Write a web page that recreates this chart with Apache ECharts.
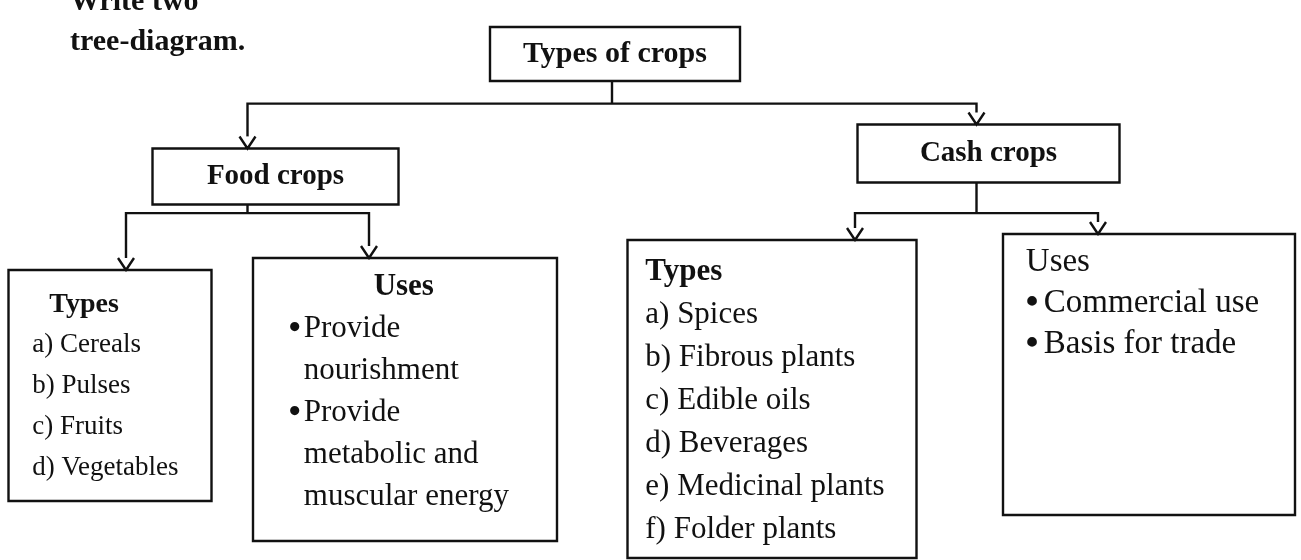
<!DOCTYPE html>
<html>
<head>
<meta charset="utf-8">
<script src="https://cdn.jsdelivr.net/npm/echarts@6/dist/echarts.min.js"></script>
<style>
html, body { margin: 0; background: #fff; }
#tree { width: 1301px; height: 560px; }
</style>
</head>
<body>
<div id="tree"></div>
<script>
// texts of the diagram, as printed
var heading = ['Write two', 'tree-diagram.'];
var rootName = 'Types of crops';
var groupNames = ['Food crops', 'Cash crops'];
var leafHeads = ['Types', 'Uses', 'Types', 'Uses'];
var foodTypes = ['a) Cereals', 'b) Pulses', 'c) Fruits', 'd) Vegetables'];
var foodUses = [['Provide', 'nourishment'], ['Provide', 'metabolic and', 'muscular energy']];
var cashTypes = ['a) Spices', 'b) Fibrous plants', 'c) Edible oils', 'd) Beverages', 'e) Medicinal plants', 'f) Folder plants'];
var cashUses = [['Commercial use'], ['Basis for trade']];

var FONT = '"Liberation Serif", "Times New Roman", serif';
var INK = '#111';
var ARROW = 12;

// box sizes and shift of the box from its tree node (the scan is a bit skewed)
var boxes = {
    root: {w: 250, h: 54, dx: 3, dy: 0},
    food: {w: 246, h: 56, dx: 28, dy: 12},
    cash: {w: 262, h: 58, dx: 12, dy: -12},
    foodTypes: {w: 203, h: 231, dx: -16, dy: 24},
    foodUses: {w: 304, h: 283, dx: 36, dy: 12},
    cashTypes: {w: 289, h: 318, dx: -83, dy: -6},
    cashUses: {w: 292, h: 281, dx: 51, dy: -12}
};

// path in coordinates relative to the tree node: box, arrow head on its top
// edge, and a short stem when the box hangs below the node.
// a square symbol with kept aspect keeps the border width even on all sides
function shape(b, arrow) {
    var a = arrow ? ARROW : 0;
    var x0 = b.dx - b.w / 2, x1 = b.dx + b.w / 2;
    var y0 = b.dy, y1 = b.dy + b.h;
    var p = 'M' + x0 + ',' + y0 + 'L' + x1 + ',' + y0 + 'L' + x1 + ',' + y1 + 'L' + x0 + ',' + y1 + 'Z';
    var top = y0;
    if (arrow) {
        p += 'M-8,' + (y0 - a) + 'L0,' + y0 + 'L8,' + (y0 - a);
        top = y0 - a;
        if (top > 0) {
            p += 'M0,0L0,' + top;
            top = 0;
        }
    }
    var side = Math.max(b.w, y1 - top);
    return {
        top: top,
        opts: {
            symbol: 'path://' + p,
            symbolSize: [side, side],
            symbolKeepAspect: true,
            symbolOffset: [b.dx, (top + y1) / 2]
        }
    };
}

function tok(style, text) {
    return '{' + style + '|' + text + '}';
}

function bulletLines(items) {
    var out = [];
    items.forEach(function (lines) {
        lines.forEach(function (l, i) {
            out.push(i === 0 ? tok('b', '•') + tok('t', l) : tok('c', l));
        });
    });
    return out;
}

function txt(size, lh, extra) {
    var s = {fontFamily: FONT, fontSize: size, lineHeight: lh, color: INK};
    for (var k in extra) s[k] = extra[k];
    return s;
}

function assign(n, o) {
    for (var k in o) n[k] = o[k];
    return n;
}

function centreNode(name, b, arrow, size) {
    var s = shape(b, arrow);
    var boxMid = b.dy + b.h / 2;
    var symMid = (s.top + b.dy + b.h) / 2;
    return assign({name: name, label: {
        show: true, position: 'inside', offset: [0, boxMid - symMid],
        fontFamily: FONT, fontSize: size, fontWeight: 'bold', color: INK
    }}, s.opts);
}

function leafNode(name, b, lines, inset, rich, width) {
    var s = shape(b, true);
    var n = assign({name: name, label: {
        show: true, position: [inset[0], b.dy - s.top + inset[1]],
        align: 'left', verticalAlign: 'top',
        formatter: function () { return lines.join('\n'); },
        rich: rich
    }}, s.opts);
    if (width) n.label.width = width;
    return n;
}

var leaves = [
    leafNode(leafHeads[0], boxes.foodTypes,
        [tok('h', leafHeads[0])].concat(foodTypes.map(function (t) { return tok('t', t); })),
        [25, 15],
        {h: txt(28, 41, {fontWeight: 'bold', padding: [0, 0, 0, 17]}), t: txt(27, 41)}),
    leafNode(leafHeads[1], boxes.foodUses,
        [tok('h', leafHeads[1])].concat(bulletLines(foodUses)),
        [37, 9],
        {h: txt(31, 42, {fontWeight: 'bold', align: 'center'}), t: txt(31, 42),
         b: txt(34, 42, {fontWeight: 'bold', width: 15}), c: txt(31, 42, {padding: [0, 0, 0, 15]})},
        230),
    leafNode(leafHeads[2], boxes.cashTypes,
        [tok('h', leafHeads[2])].concat(cashTypes.map(function (t) { return tok('t', t); })),
        [19, 12],
        {h: txt(31, 43, {fontWeight: 'bold'}), t: txt(31, 43)}),
    leafNode(leafHeads[3], boxes.cashUses,
        [tok('h', leafHeads[3])].concat(bulletLines(cashUses)),
        [24, 9],
        {h: txt(33, 41), t: txt(33, 41), b: txt(36, 41, {fontWeight: 'bold', width: 18}),
         c: txt(33, 41, {padding: [0, 0, 0, 18]})})
];

var food = centreNode(groupNames[0], boxes.food, true, 29);
food.children = [leaves[0], leaves[1]];
var cash = centreNode(groupNames[1], boxes.cash, true, 29);
cash.children = [leaves[2], leaves[3]];
var root = centreNode(rootName, boxes.root, false, 30);
root.children = [food, cash];

var chart = echarts.init(document.getElementById('tree'));
chart.setOption({
    backgroundColor: '#fff',
    animation: false,
    title: {
        text: heading.join('\n'),
        left: 70,
        top: -18,
        padding: 0,
        textStyle: {fontFamily: FONT, fontSize: 30, fontWeight: 'bold', lineHeight: 40, color: INK}
    },
    series: [{
        type: 'tree',
        data: [root],
        orient: 'TB',
        left: -117,
        top: 27,
        width: 1458,
        height: 219,
        edgeShape: 'polyline',
        edgeForkPosition: '70%',
        expandAndCollapse: false,
        initialTreeDepth: -1,
        roam: false,
        lineStyle: {color: INK, width: 2.4},
        itemStyle: {color: '#fff', borderColor: INK, borderWidth: 2.4},
        emphasis: {disabled: true}
    }]
});
</script>
</body>
</html>
